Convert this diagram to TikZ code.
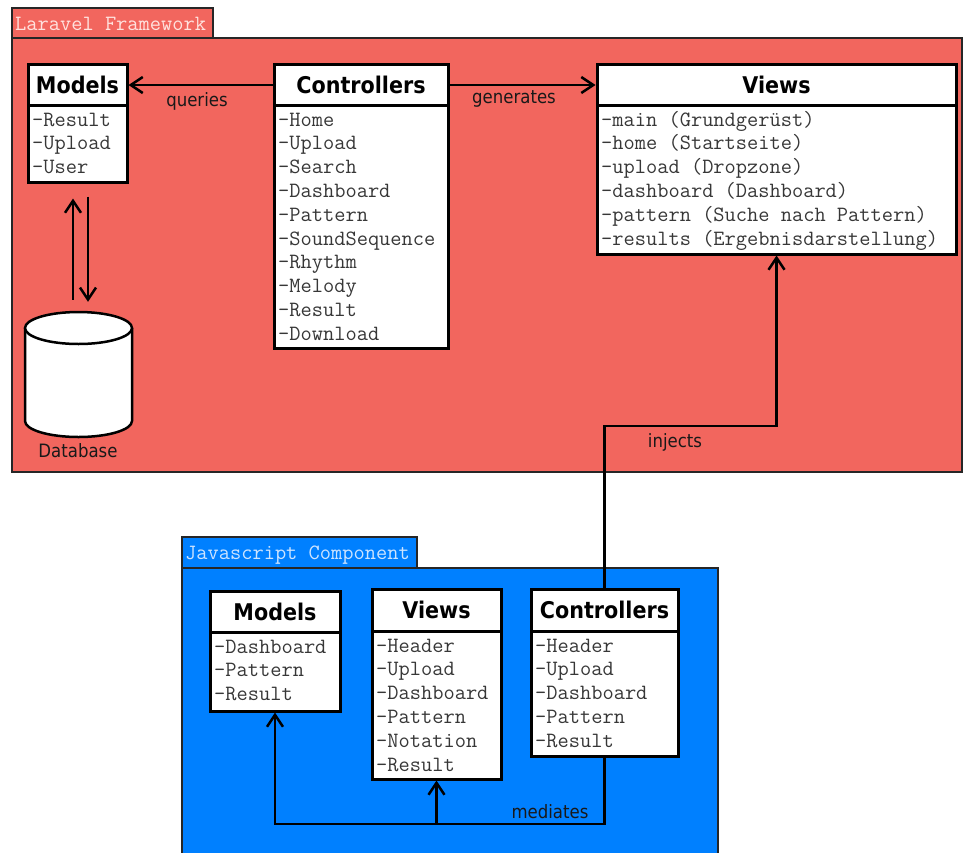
\documentclass[tikz,border=0pt]{standalone}
\usepackage{fontspec}
\newfontfamily\hdrfont{DejaVu Sans}[FakeStretch=0.9]
\usetikzlibrary{arrows.meta}
\definecolor{lred}{RGB}{242,102,94}
\definecolor{jblue}{RGB}{0,128,255}
\definecolor{ltxt}{RGB}{255,226,222}
\definecolor{jtxt}{RGB}{205,228,255}
\definecolor{bodytxt}{RGB}{55,55,55}
\begin{document}
\begin{tikzpicture}[x=1pt,y=-1pt,
  frame/.style={draw=black!85, line width=2.5pt},
  classbox/.style={draw=black, line width=3pt, fill=white, inner sep=0pt},
  divline/.style={draw=black, line width=3pt},
  hdr/.style={font=\hdrfont\bfseries\fontsize{23}{26}\selectfont, inner sep=0pt},
  item/.style={font=\ttfamily\fontsize{21.8}{24}\selectfont, text=bodytxt, anchor=base west, inner sep=0pt},
  lbl/.style={font=\hdrfont\fontsize{18.4}{21}\selectfont, inner sep=0pt, text=black!90},
  conn/.style={line width=2.5pt, -{Straight Barb[length=12pt,width=16pt]}},
  tabtxt/.style={font=\ttfamily\fontsize{21.8}{24}\selectfont, anchor=base west, inner sep=0pt}
]
\useasboundingbox (0,0) rectangle (964,852);
\clip (0,0) rectangle (964,852);

% ---------- Laravel frame ----------
\draw[frame, fill=lred] (12,38) rectangle (962,472);
\draw[frame, fill=lred] (12,8) rectangle (213,38);
\node[tabtxt, text=ltxt] (ltab) at (15,30) {Laravel Framework};

% ---------- JS frame ----------
\draw[frame, fill=jblue] (182,568) rectangle (718,880);
\draw[frame, fill=jblue] (182,537) rectangle (417,568);
\node[tabtxt, text=jtxt] (jtab) at (185,559) {Javascript Component};

% ---------- Laravel Models ----------
\node[classbox, minimum width=99pt, minimum height=118pt] (lm) at (77.5,123) {};
\draw[divline] (28,105) -- (127,105);
\node[hdr] (lmh) at (77.5,85) {Models};
\foreach \txt [count=\i from 0] in {-Result,-Upload,-User}
  \node[item] at (32,{126+23.8*\i}) {\txt};

% ---------- Laravel Controllers ----------
\node[classbox, minimum width=174pt, minimum height=284pt] (lc) at (361,206) {};
\draw[divline] (274,105) -- (448,105);
\node[hdr] (lch) at (361,85) {Controllers};
\foreach \txt [count=\i from 0] in {-Home,-Upload,-Search,-Dashboard,-Pattern,-SoundSequence,-Rhythm,-Melody,-Result,-Download}
  \node[item] at (278,{126+23.8*\i}) {\txt};

% ---------- Laravel Views ----------
\node[classbox, minimum width=359pt, minimum height=190pt] (lv) at (776.5,159) {};
\draw[divline] (597,105) -- (956,105);
\node[hdr] (lvh) at (776.5,85) {Views};
\foreach \txt [count=\i from 0] in {{-main (Grundgerüst)},{-home (Startseite)},{-upload (Dropzone)},{-dashboard (Dashboard)},{-pattern (Suche nach Pattern)},{-results (Ergebnisdarstellung)}}
  \node[item] at (601,{126+23.8*\i}) {\txt};

% ---------- Database ----------
\node[minimum width=107pt, minimum height=125pt, inner sep=0pt] (db) at (78.5,374.5) {};
\draw[line width=2.5pt, fill=white] (25,328) -- (25,421)
  arc[start angle=180, end angle=360, x radius=53.5pt, y radius=16pt] -- (132,328);
\draw[line width=2.5pt, fill=white] (78.5,328) ellipse[x radius=53.5pt, y radius=16pt];
\node[lbl] (dbl) at (78,451) {Database};

% ---------- JS Models ----------
\node[classbox, minimum width=130pt, minimum height=120pt] (jm) at (275,651) {};
\draw[divline] (210,632) -- (340,632);
\node[hdr] (jmh) at (275,612) {Models};
\foreach \txt [count=\i from 0] in {-Dashboard,-Pattern,-Result}
  \node[item] at (214,{653+23.6*\i}) {\txt};

% ---------- JS Views ----------
\node[classbox, minimum width=129pt, minimum height=190pt] (jv) at (436.5,684) {};
\draw[divline] (372,631) -- (501,631);
\node[hdr] (jvh) at (436.5,610) {Views};
\foreach \txt [count=\i from 0] in {-Header,-Upload,-Dashboard,-Pattern,-Notation,-Result}
  \node[item] at (376,{652+23.8*\i}) {\txt};

% ---------- JS Controllers ----------
\node[classbox, minimum width=147pt, minimum height=167pt] (jc) at (604.5,672.5) {};
\draw[divline] (531,631) -- (678,631);
\node[hdr] (jch) at (604.5,610) {Controllers};
\foreach \txt [count=\i from 0] in {-Header,-Upload,-Dashboard,-Pattern,-Result}
  \node[item] at (535,{652+23.8*\i}) {\txt};

% ---------- connectors ----------
\draw[conn] (lc.west |- lch) -- (lm.east |- lmh);
\node[lbl] (lq) at (197,101) {queries};
\draw[conn] (lc.east |- lch) -- (lv.west |- lvh);
\node[lbl] (lg) at (514,99) {generates};

\draw[conn, shorten <=12pt, shorten >=15pt] ([xshift=-5.5pt]db.north) -- ([xshift=-4.5pt]lm.south);
\draw[conn, shorten <=13pt, shorten >=10pt] ([xshift=10.5pt]lm.south) -- ([xshift=9.5pt]db.north);

\coordinate (inj) at (700,426);
\draw[conn] (jc.north) |- (inj) -| (lv.south);
\node[lbl] (li) at (675,442) {injects};

\coordinate (med) at (440,824);
\draw[conn] (jc.south) |- (med) -| (jm.south);
\draw[conn] (jv.south |- med) -- (jv.south);
\node[lbl] (lmed) at (550,812) {mediates};
\end{tikzpicture}
\end{document}
